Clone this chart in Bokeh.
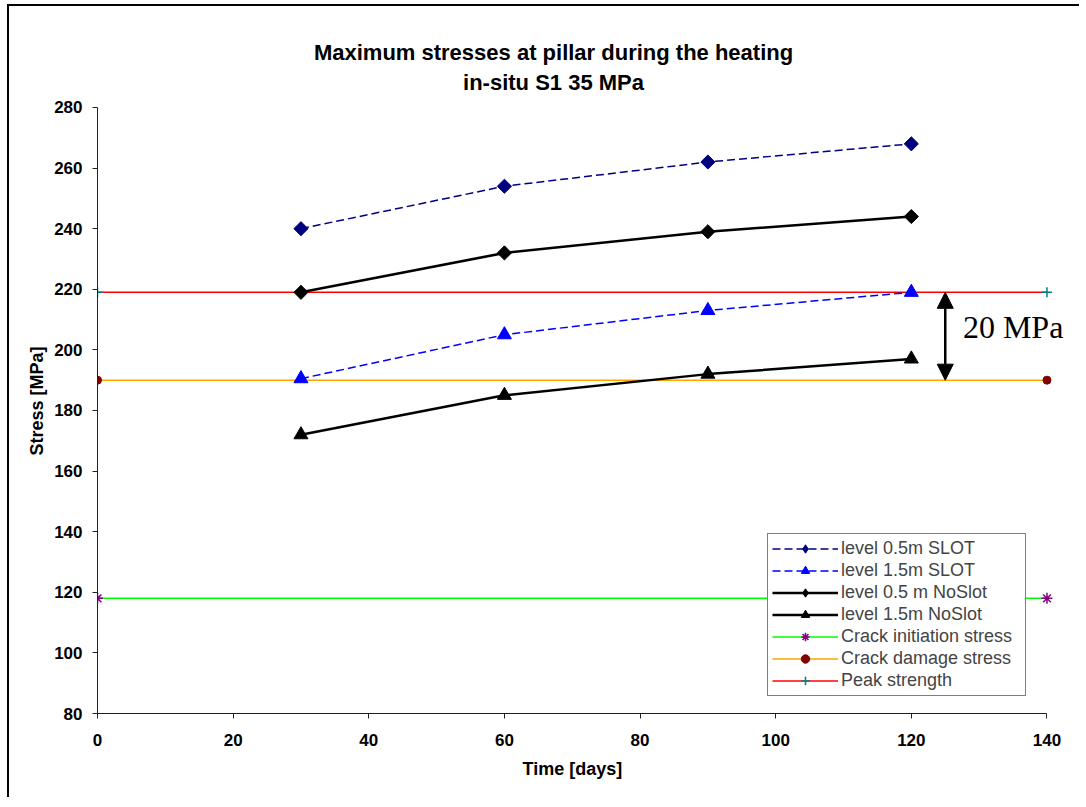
import math
from bokeh.plotting import figure
from bokeh.layouts import column
from bokeh.models import Legend, LegendItem, Arrow, NormalHead, Range1d, FixedTicker, Label, Title
from bokeh.embed import file_html
from bokeh.resources import INLINE

days = [30, 60, 90, 120]
slot_05 = [240, 254, 262, 268]
slot_15 = [190.5, 205, 213, 219]
noslot_05 = [219, 232, 239, 244]
noslot_15 = [172, 185, 192, 197]

ref_days = [0, 140]
crack_init = [118, 118]
crack_damage = [190, 190]
peak_strength = [219, 219]

title_lines = ["Maximum stresses at pillar during the heating", "in-situ S1 35 MPa"]
x_label = "Time [days]"
y_label = "Stress [MPa]"

arrow_x = 125
arrow_from = 190
arrow_to = 219
note_text = "20 MPa"

x_ticks = [0, 20, 40, 60, 80, 100, 120, 140]
y_ticks = [80, 100, 120, 140, 160, 180, 200, 220, 240, 260, 280]
x_axis_end, y_axis_end = 140, 280
x_view_end, y_view_end = 144.5, 312

PADL, PADT, B = 7, 4, 2
W, H = 1072, 793
FL, FT, FW, FH = 88, 4, 980, 703
p = figure(width=W, height=H, output_backend="svg", toolbar_location=None,
           x_range=Range1d(0, x_view_end), y_range=Range1d(80, y_view_end),
           min_border_left=FL, min_border_right=W - FL - FW,
           min_border_top=FT, min_border_bottom=H - FT - FH)
p.styles = {"border-left": "2px solid #000", "border-top": "2px solid #000"}
p.outline_line_color = None
p.xgrid.grid_line_color = None
p.ygrid.grid_line_color = None
p.background_fill_color = "white"
p.border_fill_color = "white"

for ax in (p.xaxis[0], p.yaxis[0]):
    ax.major_label_text_font = "Liberation Sans"
    ax.major_label_text_font_style = "bold"
    ax.major_label_text_font_size = "17px"
    ax.major_label_text_color = "black"
    ax.axis_line_color = "#222222"
    ax.major_tick_line_color = "#222222"
    ax.major_tick_in = 0
    ax.major_tick_out = 5
    ax.minor_tick_line_color = None

p.xaxis.bounds = (0, x_axis_end)
p.yaxis.bounds = (80, y_axis_end)
p.xaxis.ticker = FixedTicker(ticks=x_ticks)
p.yaxis.ticker = FixedTicker(ticks=y_ticks)
p.xaxis.major_label_standoff = 15
p.yaxis.major_label_standoff = 10
p.title.visible = False

# axis titles as side titles, aligned to the visible axis extent
p.add_layout(Title(text=x_label, align="left", offset=425, standoff=17, text_color="black",
                   text_font="Liberation Sans", text_font_style="bold", text_font_size="18px"),
             "below")
p.add_layout(Title(text=y_label, align="left", offset=258, standoff=10, text_color="black",
                   text_font="Liberation Sans", text_font_style="bold", text_font_size="18px"),
             "left")

# title (placed inside the extended, invisible upper part of the frame)
for txt, ty in zip(title_lines, [298.1, 288.2]):
    p.add_layout(Label(x=67.24, y=ty, text=txt, text_font="Liberation Sans",
                       text_font_style="bold", text_font_size="22px", text_color="black",
                       text_align="center", text_baseline="alphabetic"))

# reference lines
l_ci = p.line(ref_days, crack_init, line_color="#00FF00", line_width=1.5)
s_ci = p.scatter(ref_days, crack_init, marker="asterisk", size=11, line_color="#800080", line_width=1.5)
l_cd = p.line(ref_days, crack_damage, line_color="#FFA500", line_width=1.5)
s_cd = p.scatter(ref_days, crack_damage, marker="circle", size=8, fill_color="#800000", line_color="#800000")
l_pk = p.line(ref_days, peak_strength, line_color="#FF0000", line_width=1.5)
s_pk = p.scatter(ref_days, peak_strength, marker="cross", size=10, line_color="#008080", line_width=1.5)

# series
rot = math.pi / 4
l1 = p.line(days, slot_05, line_color="#000080", line_width=1.5, line_dash="8 4")
s1 = p.scatter(days, slot_05, marker="square", angle=rot, size=10, fill_color="#000080", line_color="#000080")
l2 = p.line(days, slot_15, line_color="#0000FF", line_width=1.5, line_dash="8 4")
s2 = p.scatter(days, slot_15, marker="triangle", size=14, fill_color="#0000FF", line_color="#0000FF")
l3 = p.line(days, noslot_05, line_color="black", line_width=2.5)
s3 = p.scatter(days, noslot_05, marker="square", angle=rot, size=10, fill_color="black", line_color="black")
l4 = p.line(days, noslot_15, line_color="black", line_width=2.5)
s4 = p.scatter(days, noslot_15, marker="triangle", size=14, fill_color="black", line_color="black")

# legend-only diamond symbols (NaN position, so they draw nothing in the plot)
nan = [float("nan")]
d1 = p.scatter(nan, nan, marker="diamond", size=13, fill_color="#000080", line_color="#000080")
d3 = p.scatter(nan, nan, marker="diamond", size=13, fill_color="black", line_color="black")

arrow = Arrow(x_start=arrow_x, y_start=arrow_from, x_end=arrow_x, y_end=arrow_to,
              line_width=2.5, line_color="black",
              start=NormalHead(size=16, fill_color="black", line_color="black"),
              end=NormalHead(size=16, fill_color="black", line_color="black"))
p.add_layout(arrow)
p.add_layout(Label(x=127.6, y=207.4, text=note_text, text_font="Liberation Serif",
                   text_font_size="32px", text_baseline="alphabetic", text_align="left",
                   text_color="black"))

legend = Legend(items=[
    LegendItem(label="level 0.5m SLOT", renderers=[l1, d1]),
    LegendItem(label="level 1.5m SLOT", renderers=[l2, s2]),
    LegendItem(label="level 0.5 m NoSlot", renderers=[l3, d3]),
    LegendItem(label="level 1.5m NoSlot", renderers=[l4, s4]),
    LegendItem(label="Crack initiation stress", renderers=[l_ci, s_ci]),
    LegendItem(label="Crack damage stress", renderers=[l_cd, s_cd]),
    LegendItem(label="Peak strength", renderers=[l_pk, s_pk]),
], location=(670, 17))
legend.label_text_font = "Liberation Sans"
legend.label_text_font_size = "18px"
legend.glyph_width = 66
legend.glyph_height = 21
legend.label_height = 21
legend.label_width = 180
legend.spacing = 1
legend.padding = 4
legend.margin = 0
legend.label_standoff = 3
legend.border_line_color = "black"
legend.border_line_width = 1
legend.background_fill_alpha = 1
p.add_layout(legend)

root = column(p, styles={"padding-left": f"{PADL}px", "padding-top": f"{PADT}px"})
open("out.html", "w").write(file_html(root, INLINE))
